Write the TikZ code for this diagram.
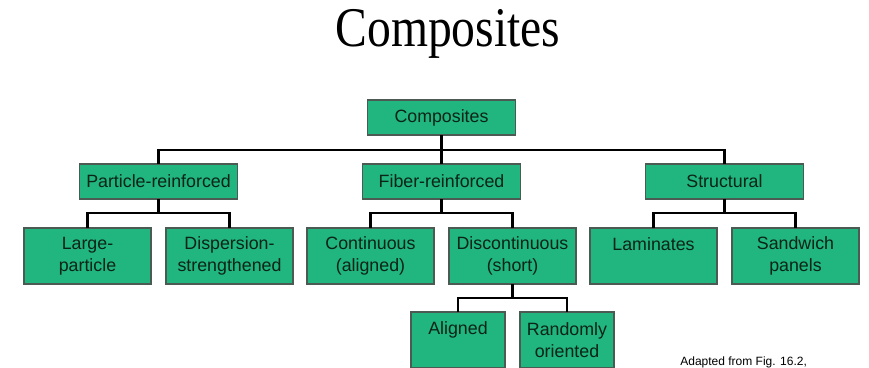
\documentclass[tikz,border=0pt]{standalone}
\usepackage{fontspec}
\newfontfamily\boxfont{Liberation Sans}
\newfontfamily\titlefont{Liberation Serif}
\usetikzlibrary{calc}
\definecolor{boxgreen}{RGB}{33,181,127}
\definecolor{boxedge}{RGB}{75,90,82}
\definecolor{boxtext}{RGB}{10,36,22}

\begin{document}
\begin{tikzpicture}[x=1pt,y=-1pt,
    every node/.style={outer sep=0pt},
    box/.style={draw=boxedge,fill=boxgreen,line width=1.3pt,text=boxtext,inner sep=0pt,
        align=center,font=\boxfont\fontsize{17.8}{21.5}\selectfont},
    topbox/.style={box,minimum width=148,minimum height=35},
    midbox/.style={box,minimum width=158,minimum height=35},
    leafbox/.style={box,minimum width=127,minimum height=56},
    lowbox/.style={leafbox,minimum width=94},
    toptext/.style={inner ysep=9pt,text height=13pt,text depth=25pt},
    conn/.style={line width=2.4pt,black}]
    \useasboundingbox (0,0) rectangle (869,367);

    \node (ttl) at (448,34) {\titlefont\fontsize{56}{60}\selectfont\scalebox{0.85}[1]{Composites}};

    % untere Reihe
    \node[leafbox] (lp) at (87.5,256) {Large-\\particle};
    \node[leafbox] (ds) at (lp.east) [anchor=west,xshift=15pt] {Dispersion-\\strengthened};
    \node[leafbox] (cont) at (ds.east) [anchor=west,xshift=14pt] {Continuous\\(aligned)};
    \node[leafbox] (disc) at (cont.east) [anchor=west,xshift=15pt] {Discontinuous\\(short)};
    \node[leafbox,toptext] (lam) at (disc.east) [anchor=west,xshift=14pt] {Laminates};
    \node[leafbox] (sw) at (lam.east) [anchor=west,xshift=15pt] {Sandwich\\panels};

    % mittlere Reihe
    \node[midbox] (part) at ($(lp.north)!.5!(ds.north)$) [anchor=south,yshift=29pt] {Particle-reinforced};
    \node[midbox] (fib) at ($(cont.north)!.5!(disc.north)$) [anchor=south,yshift=29pt] {Fiber-reinforced};
    \node[midbox] (struc) at ($(lam.north)!.5!(sw.north)$) [anchor=south,yshift=29pt] {Structural};
    \node[topbox] (comp) at (fib.north) [anchor=south,yshift=29pt] {Composites};

    % unterste Reihe
    \node[lowbox,toptext] (al) at ($(disc.south)+(-54.5,28)$) [anchor=north] {Aligned};
    \node[lowbox] (ro) at (al.east) [anchor=west,xshift=15pt] {Randomly\\oriented};

    \draw[conn] (comp.south) -- ++(0,15) -| (part.north);
    \draw[conn] (comp.south) -- (fib.north);
    \draw[conn] (comp.south) -- ++(0,15) -| (struc.north);
    \draw[conn] (part.south) -- ++(0,14) -| (lp.north);
    \draw[conn] (part.south) -- ++(0,14) -| (ds.north);
    \draw[conn] (fib.south) -- ++(0,14) -| (cont.north);
    \draw[conn] (fib.south) -- ++(0,14) -| (disc.north);
    \draw[conn] (struc.south) -- ++(0,14) -| (lam.north);
    \draw[conn] (struc.south) -- ++(0,14) -| (sw.north);
    \draw[conn] (disc.south) -- ++(0,14) -| (al.north);
    \draw[conn] (disc.south) -- ++(0,14) -| (ro.north);

    \node (src) at (677,365) [anchor=base west,font=\boxfont\fontsize{12}{14}\selectfont] {Adapted from Fig. 16.2,};
\end{tikzpicture}
\end{document}
